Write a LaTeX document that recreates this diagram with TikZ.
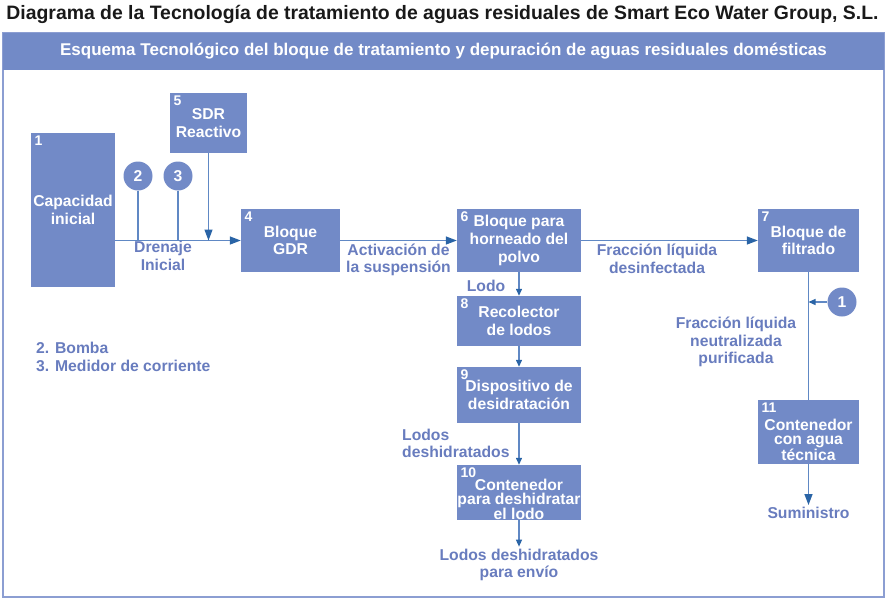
\documentclass[tikz,border=0pt]{standalone}
\usepackage{fontspec}
\setmainfont{Liberation Sans}
\usetikzlibrary{arrows.meta}
\definecolor{boxblue}{RGB}{114,138,199}
\definecolor{lblblue}{RGB}{104,124,190}
\definecolor{lineblue}{RGB}{96,136,196}
\definecolor{tipblue}{RGB}{42,100,166}
\definecolor{framecol}{RGB}{140,158,210}
\tikzset{
  blk/.style args={#1x#2}{fill=boxblue,text=white,align=center,inner sep=0pt,
    font=\fontsize{15.7}{17.6}\selectfont\bfseries,minimum width=#1pt,minimum height=#2pt},
  num/.style={anchor=north west,text=white,inner xsep=3.5pt,inner ysep=3pt,font=\fontsize{14}{14}\selectfont\bfseries},
  pump/.style={circle,fill=boxblue,text=white,inner sep=0pt,minimum size=29pt,
    font=\fontsize{15.7}{15.7}\selectfont\bfseries},
  lbl/.style={text=lblblue,align=center,inner sep=2pt,font=\fontsize{15.7}{17.6}\selectfont\bfseries},
  wire/.style={draw=lineblue,line width=1.3pt},
  flow/.style={wire,-{Triangle[length=11pt,width=8pt,color=tipblue]}},
  flowsm/.style={wire,-{Triangle[length=7pt,width=6pt,color=tipblue]}}
}
\begin{document}
\begin{tikzpicture}[x=1pt,y=-1pt]
  \useasboundingbox (0,0) rectangle (887,600);

  \node (title) [inner sep=0pt,text={rgb,255:red,25;green,25;blue,25},
    font=\fontsize{19.4}{19.4}\selectfont\bfseries] at (442.5,14)
    {Diagrama de la Tecnología de tratamiento de aguas residuales de Smart Eco Water Group, S.L.};
  \draw [framecol, line width=1.5pt] (3,33) rectangle (884,597);
  \node (hdr) [fill=boxblue, text=white, minimum width=881pt, minimum height=37pt,
    font=\fontsize{17}{17}\selectfont\bfseries] at (443.5,51.5)
    {Esquema Tecnológico del bloque de tratamiento y depuración de aguas residuales domésticas};

  % bloques
  \node (cap) [blk=84x154, label={[num]north west:1}] at (73,210) {Capacidad\\inicial};
  \node (sdr) [blk=77x60, label={[num]north west:5}] at (208.5,123) {SDR\\Reactivo};
  \node (gdr) [blk=99x63, label={[num]north west:4}] at (290.5,240.5) {Bloque\\GDR};
  \node (horno) [blk=124x63, label={[num]north west:6}] at (519,240.5) {Bloque para\\horneado del\\polvo};
  \node (filtro) [blk=101x63, label={[num]north west:7}] at (808.5,240.5) {Bloque de\\filtrado};
  \node (recol) [blk=124x50, label={[num]north west:8}] at (519,321) {Recolector\\de lodos};
  \node (deshid) [blk=124x56, label={[num]north west:9}] at (519,395) {Dispositivo de\\desidratación};
  \node (cont) [blk=124x55, label={[num]north west:10}, font=\fontsize{15.7}{14}\selectfont\bfseries]
    at (519,492.5) {\mbox{}\\[11pt]Contenedor\\para deshidratar\\el lodo};
  \node (agua) [blk=101x64, label={[num]north west:11}, font=\fontsize{15.7}{14}\selectfont\bfseries]
    at (808.5,432) {\mbox{}\\[13pt]Contenedor\\con agua\\técnica};

  \node (p2) [pump] at (138,176) {2};
  \node (p3) [pump] at (178,176) {3};
  \node (c1) [pump] at (842,302) {1};

  % textos
  \node (drenaje) [lbl] at (163,256) {Drenaje\\Inicial};
  \node (activ) [lbl] at (398.5,260) {Activación de\\la suspensión};
  \node (desinf) [lbl] at (657,259) {Fracción líquida\\desinfectada};
  \node (lodo) [lbl] at (486,286) {Lodo};
  \node (neutra) [lbl] at (736,342) {Fracción líquida\\neutralizada\\purificada};
  \node (lodosd) [lbl, align=left, anchor=west] at (400,443.5) {Lodos\\deshidratados};
  \node (envio) [lbl] at (519,565) {Lodos deshidratados\\para envío};
  \node (sumin) [lbl] at (808.5,513) {Suministro};
  \node (leyenda) [lbl, align=left, anchor=west] at (34,357) {2. Bomba\\3. Medidor de corriente};

  % conexiones
  \draw [flow] (cap.east |- gdr.west) -- (gdr.west);
  \draw [wire] (p2) -- (p2 |- gdr.west);
  \draw [wire] (p3) -- (p3 |- gdr.west);
  \draw [flow] (sdr) -- (sdr |- gdr.west);
  \draw [flow] (gdr) -- (horno);
  \draw [flow] (horno) -- (filtro);
  \draw [flowsm] (horno) -- (recol);
  \draw [flowsm] (recol) -- (deshid);
  \draw [flowsm] (deshid) -- (cont);
  \draw [flowsm] (cont) -- (envio);
  \draw [wire] (filtro) -- (agua);
  \draw [flowsm] (c1) -- (c1 -| filtro.south);
  \draw [flow] (agua) -- (sumin);
\end{tikzpicture}
\end{document}
